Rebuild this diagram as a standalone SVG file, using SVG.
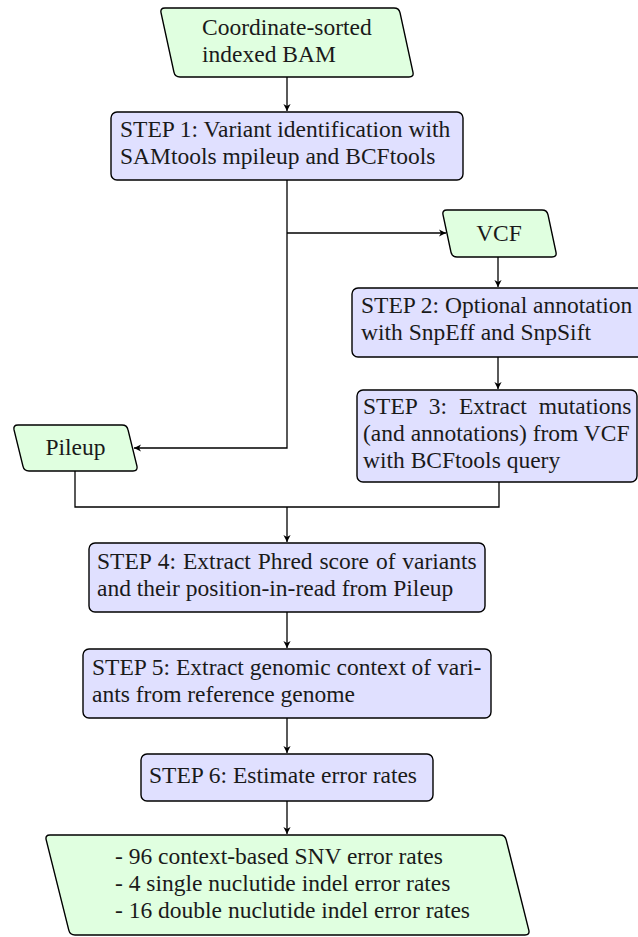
<svg xmlns="http://www.w3.org/2000/svg" width="638" height="937" viewBox="0 0 638 937">
<style>
.io{fill:#e0ffe0;stroke:#000;stroke-width:1.4;stroke-linejoin:round}
.step{fill:#e0e0ff;stroke:#000;stroke-width:1.4}
.c{fill:none;stroke:#000;stroke-width:1.3}
</style>
<defs>
<marker id="ah" viewBox="-8 -5 10 10" refX="0" refY="0" markerWidth="10" markerHeight="10" markerUnits="userSpaceOnUse" orient="auto">
<path d="M0,0 L-7,-3.6 L-5,0 L-7,3.6 Z" fill="#000"/>
</marker>
</defs>
<rect width="638" height="937" fill="#fff"/>
<g id="connectors">
<path class="c" d="M287,77 V111" marker-end="url(#ah)"/>
<path class="c" d="M287,180 V448 H134" marker-end="url(#ah)"/>
<path class="c" d="M287,233 H446" marker-end="url(#ah)"/>
<path class="c" d="M498,257 V287" marker-end="url(#ah)"/>
<path class="c" d="M498,357 V389" marker-end="url(#ah)"/>
<path class="c" d="M75,471 V507 H499 V482"/>
<path class="c" d="M287,507 V542" marker-end="url(#ah)"/>
<path class="c" d="M287,612 V648" marker-end="url(#ah)"/>
<path class="c" d="M287,718 V753" marker-end="url(#ah)"/>
<path class="c" d="M287,801 V834" marker-end="url(#ah)"/>
</g>
<g id="bam">
<path class="io" d="M165,8 L394,8 Q399,8 400.06,12.89 L412.94,72.11 Q414,77 409,77 L180,77 Q175,77 173.94,72.11 L161.06,12.89 Q160,8 165,8 Z"/>
<text font-family="Liberation Serif" font-size="23.5" fill="#1a1a1a" x="202" y="35">Coordinate-sorted</text>
<text font-family="Liberation Serif" font-size="23.5" fill="#1a1a1a" x="202" y="62">indexed BAM</text>
</g>
<g id="step1">
<rect class="step" x="111" y="112" width="352" height="68" rx="6"/>
<text font-family="Liberation Serif" font-size="23.5" fill="#1a1a1a" x="120" y="137">STEP 1: Variant identification with</text>
<text font-family="Liberation Serif" font-size="23.5" fill="#1a1a1a" x="120" y="164">SAMtools mpileup and BCFtools</text>
</g>
<g id="vcf">
<path class="io" d="M447,210 L542,210 Q547,210 548.04,214.89 L555.96,252.11 Q557,257 552,257 L457,257 Q452,257 450.96,252.11 L443.04,214.89 Q442,210 447,210 Z"/>
<text font-family="Liberation Serif" font-size="23.5" fill="#1a1a1a" x="499" y="241" text-anchor="middle">VCF</text>
</g>
<g id="step2">
<rect class="step" x="352" y="288" width="292" height="69" rx="6"/>
<text font-family="Liberation Serif" font-size="23.5" fill="#1a1a1a" x="361" y="313">STEP 2: Optional annotation</text>
<text font-family="Liberation Serif" font-size="23.5" fill="#1a1a1a" x="361" y="340">with SnpEff and SnpSift</text>
</g>
<g id="step3">
<rect class="step" x="357" y="390" width="280" height="92" rx="6"/>
<text font-family="Liberation Serif" font-size="23.5" fill="#1a1a1a" x="363" y="414" word-spacing="6">STEP 3: Extract mutations</text>
<text font-family="Liberation Serif" font-size="23.5" fill="#1a1a1a" x="363" y="441">(and annotations) from VCF</text>
<text font-family="Liberation Serif" font-size="23.5" fill="#1a1a1a" x="363" y="468">with BCFtools query</text>
</g>
<g id="pileup">
<path class="io" d="M18,425 L122,425 Q127,425 128.04,429.89 L136.96,466.11 Q138,471 133,471 L29,471 Q24,471 22.96,466.11 L14.04,429.89 Q13,425 18,425 Z"/>
<text font-family="Liberation Serif" font-size="23.5" fill="#1a1a1a" x="75.5" y="455" text-anchor="middle">Pileup</text>
</g>
<g id="step4">
<rect class="step" x="89" y="543" width="396" height="69" rx="6"/>
<text font-family="Liberation Serif" font-size="23.5" fill="#1a1a1a" x="97" y="569" word-spacing="1">STEP 4: Extract Phred score of variants</text>
<text font-family="Liberation Serif" font-size="23.5" fill="#1a1a1a" x="97" y="596">and their position-in-read from Pileup</text>
</g>
<g id="step5">
<rect class="step" x="83" y="649" width="408" height="69" rx="6"/>
<text font-family="Liberation Serif" font-size="23.5" fill="#1a1a1a" x="92" y="675">STEP 5: Extract genomic context of vari-</text>
<text font-family="Liberation Serif" font-size="23.5" fill="#1a1a1a" x="92" y="702">ants from reference genome</text>
</g>
<g id="step6">
<rect class="step" x="141" y="754" width="292" height="47" rx="6"/>
<text font-family="Liberation Serif" font-size="23.5" fill="#1a1a1a" x="149" y="783">STEP 6: Estimate error rates</text>
</g>
<g id="output">
<path class="io" d="M50,835 L500,835 Q505,835 506.21,839.85 L528.79,930.15 Q530,935 525,935 L75,935 Q70,935 68.79,930.15 L46.21,839.85 Q45,835 50,835 Z"/>
<text font-family="Liberation Serif" font-size="23.5" fill="#1a1a1a" x="115" y="864">- 96 context-based SNV error rates</text>
<text font-family="Liberation Serif" font-size="23.5" fill="#1a1a1a" x="115" y="891">- 4 single nuclutide indel error rates</text>
<text font-family="Liberation Serif" font-size="23.5" fill="#1a1a1a" x="115" y="918">- 16 double nuclutide indel error rates</text>
</g>
</svg>
